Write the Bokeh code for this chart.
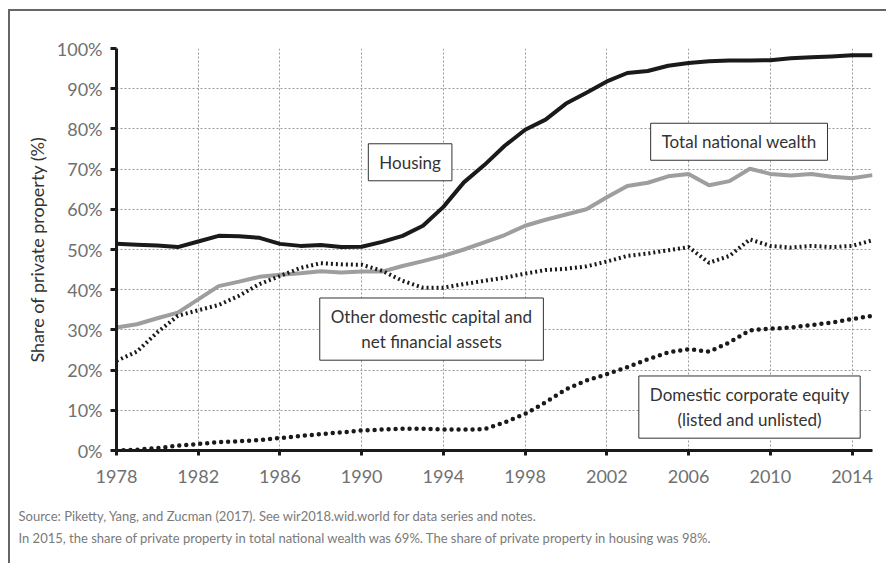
from bokeh.plotting import figure
from bokeh.models import Label, Title, FixedTicker, PrintfTickFormatter, Range1d
from bokeh.embed import file_html
from bokeh.resources import INLINE

years = [1978, 1979, 1980, 1981, 1982, 1983, 1984, 1985, 1986, 1987,
         1988, 1989, 1990, 1991, 1992, 1993, 1994, 1995, 1996, 1997,
         1998, 1999, 2000, 2001, 2002, 2003, 2004, 2005, 2006, 2007,
         2008, 2009, 2010, 2011, 2012, 2013, 2014, 2015]

housing = [51.4, 51.2, 51.0, 50.6, 52.0, 53.4, 53.3, 52.9, 51.4, 50.9,
           51.1, 50.6, 50.7, 51.9, 53.4, 55.9, 60.6, 66.7, 71.0, 75.8,
           79.8, 82.3, 86.3, 89.0, 91.8, 93.9, 94.4, 95.7, 96.4, 96.8,
           97.0, 97.0, 97.1, 97.6, 97.8, 98.0, 98.3, 98.3]

total_wealth = [30.6, 31.4, 32.9, 34.3, 37.6, 40.9, 42.0, 43.2, 43.7, 44.1,
                44.6, 44.3, 44.5, 44.5, 45.9, 47.1, 48.4, 50.0, 51.8, 53.6,
                55.9, 57.4, 58.7, 60.0, 63.0, 65.8, 66.6, 68.2, 68.8, 66.0,
                67.0, 70.1, 68.8, 68.4, 68.8, 68.1, 67.7, 68.5]

other_capital = [22.3, 24.6, 29.4, 33.5, 34.9, 36.2, 38.5, 41.4, 43.4, 45.4,
                 46.6, 46.3, 46.2, 44.7, 42.2, 40.5, 40.5, 41.4, 42.2, 43.0,
                 44.0, 44.9, 45.2, 45.8, 47.0, 48.4, 49.0, 49.8, 50.6, 46.7,
                 48.4, 52.5, 50.9, 50.5, 50.9, 50.6, 50.9, 52.3]

corporate_equity = [0.0, 0.2, 0.6, 1.2, 1.6, 2.1, 2.3, 2.6, 3.1, 3.6,
                    4.1, 4.5, 5.0, 5.2, 5.4, 5.4, 5.2, 5.2, 5.3, 7.0,
                    9.1, 12.0, 15.2, 17.4, 19.0, 20.7, 22.7, 24.4, 25.2, 24.6,
                    26.9, 29.9, 30.3, 30.6, 31.2, 31.8, 32.7, 33.5]

x_ticks = [1978, 1982, 1986, 1990, 1994, 1998, 2002, 2006, 2010, 2014]
y_ticks = [0, 10, 20, 30, 40, 50, 60, 70, 80, 90, 100]

# series labels: (text, x-year, y-value)
series_labels = [
    ("Housing", 1992.37, 71.7),
    ("Total national wealth", 2008.47, 76.8),
    ("Other domestic capital and\nnet financial assets", 1993.42, 30.2),
    ("Domestic corporate equity\n(listed and unlisted)", 2008.98, 10.8),
]

notes = [
    "Source: Piketty, Yang, and Zucman (2017). See wir2018.wid.world for data series and notes.",
    "In 2015, the share of private property in total national wealth was 69%. The share of private property in housing was 98%.",
]

FONT = "Lato"

p = figure(width=878, height=554, output_backend="svg", toolbar_location=None,
           x_range=Range1d(1978, 2015), y_range=Range1d(0, 100),
           min_border_left=106, min_border_right=16, min_border_top=37,
           min_border_bottom=115)
p.styles = {"margin-left": "8px", "margin-top": "9px",
            "border-top": "2px solid #666", "border-left": "2px solid #666"}
p.outline_line_color = None
p.background_fill_color = "white"
p.border_fill_color = "white"

# grid
for g in (p.xgrid, p.ygrid):
    g.grid_line_color = "#9a9a9a"
    g.grid_line_dash = "2 2"
    g.grid_line_width = 1
p.xgrid.ticker = FixedTicker(ticks=x_ticks)
p.ygrid.ticker = FixedTicker(ticks=y_ticks)

# axes
p.xaxis.ticker = FixedTicker(ticks=x_ticks)
p.yaxis.ticker = FixedTicker(ticks=y_ticks)
p.yaxis.formatter = PrintfTickFormatter(format="%d%%")
for ax in (p.xaxis, p.yaxis):
    ax.axis_line_color = "#1a1a1a"
    ax.axis_line_width = 3
    ax.major_tick_line_color = "#1a1a1a"
    ax.major_tick_line_width = 3
    ax.major_tick_in = 0
    ax.minor_tick_line_color = None
    ax.major_label_text_font = FONT
    ax.major_label_text_font_size = "18px"
    ax.major_label_text_color = "#707070"
p.yaxis.major_tick_out = 6
p.xaxis.major_tick_out = 5
p.yaxis.major_label_standoff = 8
p.xaxis.major_label_standoff = 14
p.yaxis.axis_label = "Share of private property (%)"
p.yaxis.axis_label_text_font = FONT
p.yaxis.axis_label_text_font_size = "18px"
p.yaxis.axis_label_text_font_style = "normal"
p.yaxis.axis_label_text_color = "#333333"
p.yaxis.axis_label_standoff = 6

# series
p.line(years, total_wealth, line_color="#9e9e9e", line_width=4)
p.line(years, other_capital, line_color="#1a1a1a", line_width=4,
       line_dash="2 3", line_cap="butt")
p.line(years, corporate_equity, line_color="#1a1a1a", line_width=4.5,
       line_dash="0 7", line_cap="round")
p.line(years, housing, line_color="#1a1a1a", line_width=4, line_join="round")

for text, lx, ly in series_labels:
    p.add_layout(Label(x=lx, y=ly, text=text, text_align="center",
                       text_baseline="middle", text_font=FONT,
                       text_font_size="17px", text_color="#333333",
                       text_line_height=1.2,
                       background_fill_color="white",
                       border_line_color="#333333", border_line_width=1,
                       padding=dict(left=11, right=11, top=8, bottom=8)))

# thin spacer above the notes, then the notes block
p.add_layout(Title(text=" ", standoff=18, text_font_size="1px"), "below")
p.add_layout(Title(text="\n".join(notes), align="left", offset=-98,
                   standoff=0, text_line_height=1.4,
                   text_font=FONT, text_font_size="13px",
                   text_font_style="normal", text_color="#7a7a7a"),
             "below")

open("out.html", "w").write(file_html(p, INLINE))
